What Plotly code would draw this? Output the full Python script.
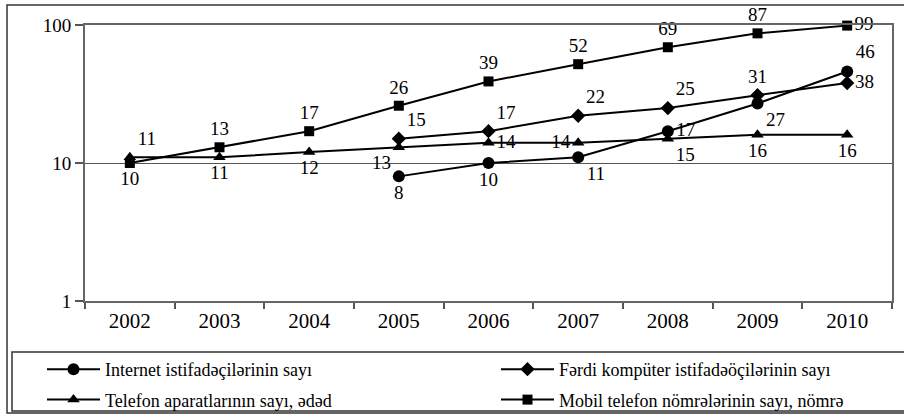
import plotly.graph_objects as go

years = ["2002", "2003", "2004", "2005", "2006", "2007", "2008", "2009", "2010"]

internet_years = ["2005", "2006", "2007", "2008", "2009", "2010"]
internet = [8, 10, 11, 17, 27, 46]

pc_years = ["2005", "2006", "2007", "2008", "2009", "2010"]
pc_users = [15, 17, 22, 25, 31, 38]

phones = [11, 11, 12, 13, 14, 14, 15, 16, 16]
mobile = [10, 13, 17, 26, 39, 52, 69, 87, 99]

names = [
    "Internet istifadəçilərinin sayı",
    "Fərdi kompüter istifadəöçilərinin sayı",
    "Telefon aparatlarının sayı, ədəd",
    "Mobil telefon nömrələrinin sayı, nömrə",
]

# label placement per point (style only)
pos_internet = ["bottom center", "bottom center", "bottom right", "middle right",
                "bottom right", "top right"]
pos_pc = ["top right", "top right", "top right", "top right", "top center", "middle right"]
pos_phone = ["top right", "bottom center", "bottom center", "bottom left", "middle right",
             "middle left", "bottom right", "bottom center", "bottom center"]
pos_mobile = ["bottom center", "top center", "top center", "top center", "top center",
              "top center", "top center", "top center", "middle right"]

FONT = "Liberation Serif"
line = dict(color="black", width=2)

fig = go.Figure()
fig.add_trace(go.Scatter(
    x=internet_years, y=internet, name=names[0], mode="lines+markers+text",
    text=[str(v) for v in internet], textposition=pos_internet,
    line=line, marker=dict(symbol="circle", size=12, color="black"),
    legend="legend", legendgroup="a"))
fig.add_trace(go.Scatter(
    x=pc_years, y=pc_users, name=names[1], mode="lines+markers+text",
    text=[str(v) for v in pc_users], textposition=pos_pc,
    line=line, marker=dict(symbol="diamond", size=11, color="black"),
    legend="legend2", legendgroup="b"))
fig.add_trace(go.Scatter(
    x=years, y=phones, name=names[2], mode="lines+markers+text",
    text=[str(v) for v in phones], textposition=pos_phone,
    line=line, marker=dict(symbol="triangle-up", size=11, color="black"),
    legend="legend", legendgroup="c"))
fig.add_trace(go.Scatter(
    x=years, y=mobile, name=names[3], mode="lines+markers+text",
    text=[str(v) for v in mobile], textposition=pos_mobile,
    line=line, marker=dict(symbol="square", size=10, color="black"),
    legend="legend2", legendgroup="d"))

fig.update_traces(textfont=dict(family=FONT, size=19, color="black"), cliponaxis=False)

# plot area in pixels: x 85..892, y 25..301
L, R, T, B = 85, 892, 25, 301
W, H = 904, 414


def px(xp):
    return (xp - L) / (R - L)


def py(yp):
    return (B - yp) / (B - T)


leg = dict(
    orientation="v", yanchor="top", xanchor="left",
    font=dict(family=FONT, size=18, color="black"),
    bgcolor="rgba(0,0,0,0)", borderwidth=0, itemwidth=53,
    tracegroupgap=4, traceorder="grouped",
)

fig.update_layout(
    width=W, height=H,
    margin=dict(l=L, r=W - R, t=T, b=H - B, autoexpand=False),
    paper_bgcolor="white", plot_bgcolor="white",
    font=dict(family=FONT, size=18, color="black"),
    showlegend=True,
    legend=dict(leg, x=px(42), y=py(351)),
    legend2=dict(leg, x=px(496), y=py(351)),
    xaxis=dict(
        type="category", categoryorder="array", categoryarray=years,
        range=[-0.5, len(years) - 0.5],
        showline=True, linecolor="#666666", linewidth=2, mirror=True,
        ticks="outside", tickson="boundaries", ticklen=6, tickcolor="#555555", tickwidth=2,
        showgrid=False, tickfont=dict(size=21),
    ),
    yaxis=dict(
        type="log", range=[0, 2], tickvals=[1, 10, 100], ticktext=["1", "10", "100"],
        showline=True, linecolor="#666666", linewidth=2, mirror=True,
        ticks="outside", ticklen=8, tickcolor="#555555", tickwidth=2,
        showgrid=True, gridcolor="#555555", gridwidth=1, zeroline=False,
        tickfont=dict(size=19),
    ),
    shapes=[
        # outer chart border (right edge runs off the picture)
        dict(type="rect", xref="paper", yref="paper",
             x0=px(7), x1=px(930), y0=py(413), y1=py(5),
             line=dict(color="#333333", width=1.5), layer="below"),
        # legend box
        dict(type="rect", xref="paper", yref="paper",
             x0=px(12), x1=px(930), y0=py(411), y1=py(352),
             line=dict(color="#333333", width=1.5), layer="below"),
    ],
)

# the page body has a default 8px margin; drop it so the figure sits at the window corner
fig.write_html("out.html", config={"displayModeBar": False},
               post_script="document.body.style.margin = '0';")
